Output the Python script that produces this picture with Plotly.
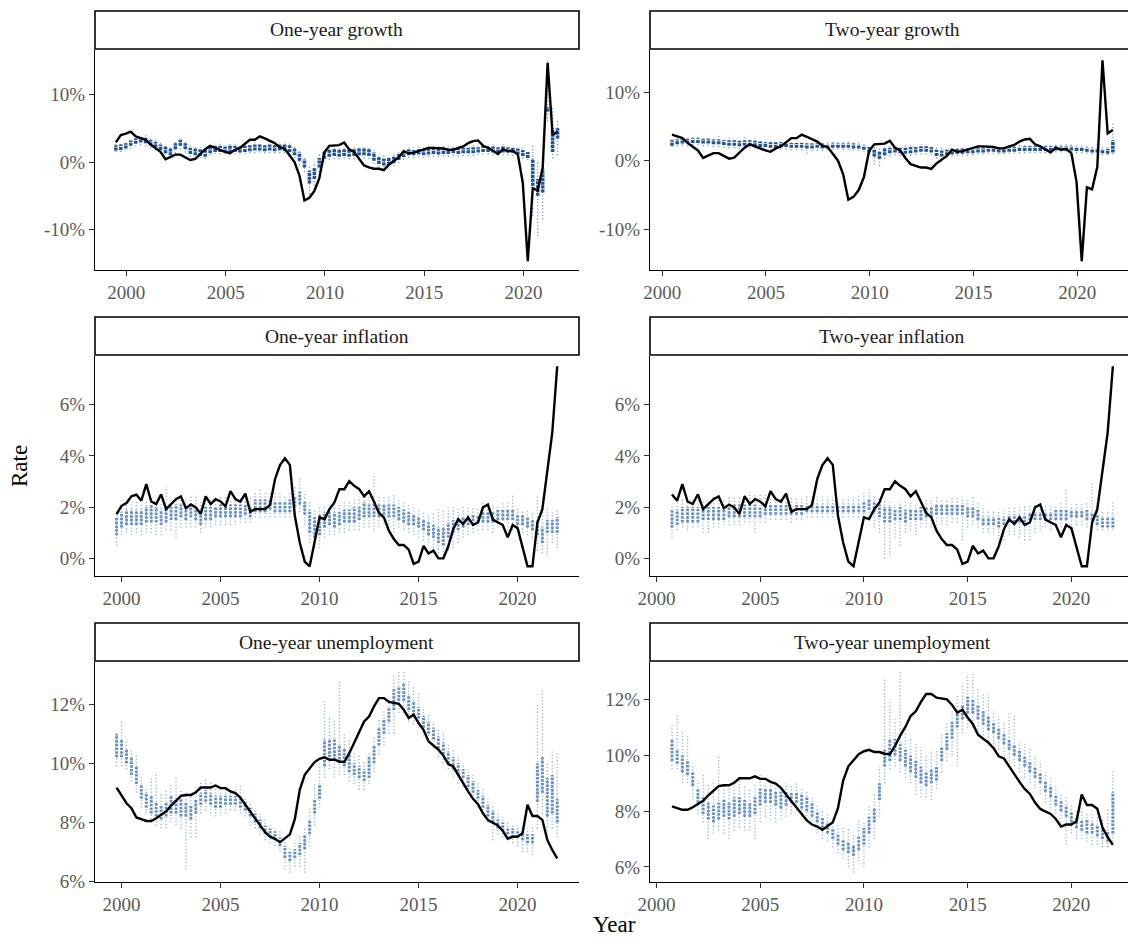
import plotly.graph_objects as go

# ---------------- data ----------------
# Actual outcomes, quarterly
growth_start = 1999.47
growth_actual = [2.9, 4.0, 4.2, 4.5, 3.8, 3.5, 3.3, 2.6, 2.1, 1.5,
                 0.4, 0.8, 1.1, 1.1, 0.7, 0.3, 0.45, 1.2, 1.9, 2.4,
                 2.1, 1.7, 1.5, 1.3, 1.8, 2.1, 2.7, 3.3, 3.3, 3.8,
                 3.5, 3.1, 2.8, 2.2, 2.0, 1.0, 0.0, -2.0, -5.7, -5.3,
                 -4.3, -2.4, 1.4, 2.4, 2.4, 2.5, 2.9, 1.9, 1.5, 0.4,
                 -0.5, -0.8, -1.0, -1.0, -1.2, -0.4, 0.1, 0.7, 1.6, 1.3,
                 1.4, 1.6, 1.9, 2.1, 2.1, 2.1, 2.0, 1.8, 1.8, 2.1,
                 2.3, 2.8, 3.1, 3.2, 2.4, 2.1, 1.6, 1.2, 1.9, 1.6,
                 1.7, 1.1, -3.1, -14.7, -3.9, -4.2, -0.9, 14.7, 4.0, 4.5]

infl_start = 1999.75
infl_actual = [1.73, 2.05, 2.16, 2.42, 2.49, 2.25, 2.9, 2.22, 2.12, 2.5,
               1.92, 2.12, 2.31, 2.42, 1.96, 2.1, 1.99, 1.73, 2.42, 2.12,
               2.31, 2.22, 2.03, 2.62, 2.31, 2.21, 2.53, 1.82, 1.92, 1.92,
               1.92, 2.09, 3.09, 3.64, 3.91, 3.65, 1.66, 0.62, -0.13, -0.31,
               0.62, 1.6, 1.53, 1.92, 2.18, 2.7, 2.7, 3.01, 2.83, 2.7,
               2.42, 2.62, 2.21, 1.77, 1.6, 1.08, 0.75, 0.52, 0.52, 0.34,
               -0.22, -0.13, 0.49, 0.19, 0.3, 0.0, 0.0, 0.47, 1.14, 1.53,
               1.34, 1.6, 1.3, 1.4, 1.99, 2.1, 1.51, 1.4, 1.3, 0.82,
               1.3, 1.18, 0.39, -0.31, -0.31, 1.4, 1.92, 3.35, 4.91, 7.5]

unemp_start = 1999.75
unemp_actual = [9.18, 8.93, 8.65, 8.48, 8.17, 8.11, 8.05, 8.05, 8.14, 8.26,
                8.37, 8.57, 8.73, 8.9, 8.93, 8.93, 9.02, 9.18, 9.18, 9.18,
                9.25, 9.16, 9.16, 9.05, 8.99, 8.84, 8.6, 8.37, 8.12, 7.9,
                7.67, 7.52, 7.45, 7.33, 7.45, 7.6, 8.11, 9.1, 9.61, 9.81,
                10.04, 10.15, 10.2, 10.12, 10.12, 10.06, 10.04, 10.34, 10.71, 11.02,
                11.41, 11.58, 11.92, 12.2, 12.2, 12.07, 12.03, 12.01, 11.81, 11.53,
                11.64, 11.36, 11.13, 10.74, 10.6, 10.46, 10.26, 9.97, 9.89, 9.59,
                9.33, 9.05, 8.8, 8.62, 8.31, 8.08, 7.98, 7.9, 7.72, 7.45,
                7.52, 7.52, 7.64, 8.6, 8.22, 8.22, 8.09, 7.41, 7.07, 6.79]

# Forecast clouds per quarter: dense core (lo, hi) and full spread (min, max)
g1_start = 1999.47
g1_lo = [1.7, 1.8, 2.0, 2.4, 2.7, 2.9, 2.8, 2.5, 2.2, 1.8, 1.3, 1.0, 1.9, 2.4, 1.9, 1.2, 1.0, 0.9, 0.8, 1.3,
         1.5, 1.5, 1.4, 1.4, 1.5, 1.4, 1.5, 1.6, 1.7, 1.7, 1.6, 1.7, 1.6, 1.7, 1.6, 1.5, 1.0, 0.2, -0.8, -3.2,
         -2.5, -0.8, 0.5, 0.8, 0.9, 0.8, 0.9, 0.8, 0.9, 1.0, 1.0, 0.9, 0.2, -0.3, -0.5, -0.4, -0.2, 0.3, 0.7, 1.0,
         1.0, 1.1, 1.0, 1.1, 1.2, 1.1, 1.2, 1.2, 1.3, 1.2, 1.3, 1.3, 1.3, 1.4, 1.5, 1.5, 1.4, 1.4, 1.4, 1.4,
         1.3, 1.1, 0.9, 0.6, -3.5, -5.0, -4.5, 7.5, 1.5, 3.5]
g1_hi = [2.5, 2.6, 2.8, 3.2, 3.5, 3.7, 3.6, 3.3, 3.0, 2.6, 2.3, 2.0, 2.8, 3.3, 2.8, 2.1, 2.0, 1.9, 1.8, 2.2,
         2.4, 2.4, 2.3, 2.4, 2.4, 2.3, 2.4, 2.5, 2.6, 2.6, 2.5, 2.6, 2.5, 2.6, 2.6, 2.5, 2.0, 1.4, 0.4, -1.3,
         -0.8, 0.6, 1.6, 1.8, 2.0, 1.9, 2.0, 1.9, 2.0, 2.0, 2.0, 1.9, 1.4, 0.8, 0.6, 0.6, 0.8, 1.2, 1.5, 1.9,
         1.8, 1.9, 1.9, 2.0, 2.0, 2.0, 2.1, 2.0, 2.1, 2.0, 2.1, 2.1, 2.2, 2.2, 2.4, 2.3, 2.3, 2.2, 2.3, 2.2,
         2.1, 2.0, 1.8, 1.5, 0.5, -2.5, -1.0, 8.2, 5.0, 5.0]
g1_min = [1.5, 1.5, 1.7, 2.0, 2.3, 2.5, 2.3, 2.0, 1.7, 1.2, 0.6, 0.5, 1.3, 1.9, 1.4, 0.8, 0.6, 0.6, 0.5, 1.0,
          1.2, 1.1, 1.1, 1.0, 1.1, 1.1, 1.2, 1.3, 1.3, 1.4, 1.3, 1.3, 1.3, 1.3, 1.3, 1.1, 0.6, -0.5, -1.5, -4.8,
          -4.0, -1.5, 0.0, 0.3, 0.4, 0.4, 0.5, 0.4, 0.5, 0.5, 0.5, 0.4, -0.3, -0.8, -1.2, -1.0, -0.6, -0.2, 0.3, 0.6,
          0.6, 0.7, 0.6, 0.7, 0.8, 0.7, 0.8, 0.8, 0.9, 0.8, 0.9, 0.9, 0.9, 1.0, 1.1, 1.1, 1.0, 1.0, 1.0, 1.0,
          0.9, 0.8, 0.5, 0.3, -8.0, -11.0, -8.5, 6.0, 0.5, 1.0]
g1_max = [2.8, 2.9, 3.1, 3.5, 3.8, 4.0, 4.0, 3.6, 3.3, 3.0, 2.6, 2.4, 3.0, 3.5, 3.0, 2.4, 2.2, 2.2, 2.0, 2.5,
          2.7, 2.7, 2.6, 2.7, 2.7, 2.6, 2.7, 2.8, 2.9, 2.9, 2.8, 2.9, 2.8, 2.9, 2.9, 2.8, 2.4, 1.8, 0.8, -0.5,
          0.0, 1.2, 2.0, 2.2, 2.4, 2.3, 2.4, 2.3, 2.4, 2.4, 2.3, 2.2, 1.8, 1.2, 1.0, 1.0, 1.2, 1.5, 1.9, 2.2,
          2.2, 2.3, 2.2, 2.3, 2.4, 2.3, 2.4, 2.4, 2.4, 2.3, 2.4, 2.4, 2.5, 2.5, 2.7, 2.6, 2.6, 2.5, 2.6, 2.5,
          2.4, 2.3, 2.1, 1.8, 2.5, 0.0, 0.5, 15.2, 8.0, 6.2]

g2_start = 2000.47
g2_lo = [2.2, 2.4, 2.5, 2.5, 2.6, 2.6, 2.5, 2.5, 2.4, 2.4, 2.3, 2.2, 2.2, 2.1, 2.2, 2.2, 2.1, 2.0, 2.0, 1.9,
         1.9, 2.0, 2.0, 1.9, 1.9, 1.9, 1.8, 1.8, 1.9, 1.8, 1.8, 1.9, 1.9, 1.9, 1.9, 1.8, 1.8, 1.6, 1.2, 0.6,
         0.3, 0.8, 1.1, 1.2, 1.1, 1.0, 1.1, 1.2, 1.3, 1.3, 1.2, 0.7, 0.6, 0.8, 0.9, 1.0, 1.0, 1.1, 1.1, 1.2,
         1.2, 1.3, 1.3, 1.2, 1.2, 1.3, 1.3, 1.4, 1.4, 1.4, 1.4, 1.4, 1.4, 1.4, 1.5, 1.5, 1.5, 1.5, 1.4, 1.4,
         1.3, 1.2, 1.2, 1.1, 1.0, 1.2]
g2_hi = [3.0, 3.1, 3.2, 3.2, 3.3, 3.3, 3.2, 3.2, 3.1, 3.1, 3.0, 3.0, 3.0, 2.9, 3.0, 3.0, 2.9, 2.8, 2.7, 2.7,
         2.7, 2.7, 2.7, 2.6, 2.6, 2.6, 2.5, 2.5, 2.5, 2.5, 2.4, 2.5, 2.5, 2.5, 2.5, 2.5, 2.4, 2.2, 2.0, 1.6,
         1.4, 1.8, 1.9, 2.0, 1.9, 1.9, 2.0, 2.0, 2.1, 2.1, 2.0, 1.6, 1.5, 1.6, 1.7, 1.7, 1.8, 1.8, 1.8, 1.9,
         1.9, 2.0, 2.0, 1.9, 1.9, 2.0, 2.0, 2.0, 2.1, 2.1, 2.1, 2.1, 2.1, 2.1, 2.1, 2.1, 2.1, 2.1, 2.0, 2.0,
         1.9, 1.8, 1.8, 1.7, 1.7, 3.0]
g2_min = [2.0, 2.1, 2.2, 2.1, 2.3, 2.3, 2.1, 2.2, 2.0, 2.0, 1.9, 1.8, 1.8, 1.7, 1.8, 1.9, 1.8, 1.7, 1.6, 1.5,
          1.5, 1.6, 1.6, 1.5, 1.5, 1.5, 1.0, 1.4, 1.5, 1.4, 1.5, 1.6, 1.6, 1.6, 1.6, 1.5, 1.5, 1.3, 0.8, -0.6,
          -0.8, 0.2, 0.6, 0.8, 0.7, 0.6, 0.7, 0.8, 0.9, 0.9, 0.8, 0.3, 0.2, 0.5, 0.6, 0.7, 0.6, 0.7, 0.8, 0.9,
          0.9, 1.0, 1.0, 0.9, 0.9, 1.0, 1.0, 1.1, 1.1, 1.1, 1.1, 1.1, 1.1, 1.1, 1.2, 1.2, 1.2, 1.2, 1.1, 1.1,
          1.0, 0.9, 0.9, 0.8, 0.8, 0.9]
g2_max = [3.2, 3.3, 3.4, 3.4, 3.5, 3.5, 3.4, 3.5, 3.4, 3.9, 3.3, 3.4, 3.3, 3.2, 3.5, 3.3, 3.3, 3.1, 3.0, 3.0,
          3.0, 3.0, 3.0, 2.9, 2.9, 2.9, 2.8, 2.8, 2.8, 2.7, 2.7, 2.8, 2.8, 2.8, 2.9, 2.8, 2.7, 2.5, 2.3, 2.0,
          1.8, 2.1, 2.2, 2.3, 2.2, 2.2, 2.3, 2.3, 2.4, 2.4, 2.3, 2.0, 1.9, 1.9, 2.0, 2.0, 2.0, 2.1, 2.1, 2.2,
          2.2, 2.3, 2.3, 2.2, 2.2, 2.3, 2.3, 2.3, 2.4, 2.4, 2.4, 2.4, 2.4, 2.4, 2.4, 2.6, 2.5, 2.4, 2.3, 2.3,
          2.2, 2.1, 2.6, 2.0, 2.0, 5.6]

i1_start = 1999.75
i1_lo = [0.9, 1.2, 1.3, 1.3, 1.3, 1.3, 1.4, 1.4, 1.4, 1.3, 1.4, 1.5, 1.5, 1.6, 1.5, 1.6, 1.5, 1.3, 1.5, 1.5,
         1.6, 1.6, 1.6, 1.6, 1.6, 1.6, 1.7, 1.6, 1.8, 1.8, 1.8, 1.9, 1.8, 1.8, 1.8, 1.8, 2.0, 2.1, 1.7, 1.0,
         0.8, 0.9, 1.2, 1.3, 1.2, 1.3, 1.4, 1.4, 1.4, 1.5, 1.6, 1.6, 1.6, 1.6, 1.7, 1.6, 1.6, 1.5, 1.4, 1.3,
         1.3, 1.2, 1.1, 0.9, 0.8, 0.6, 0.5, 0.8, 1.0, 1.1, 1.2, 1.3, 1.3, 1.4, 1.4, 1.4, 1.4, 1.5, 1.5, 1.5,
         1.5, 1.3, 1.3, 1.2, 1.1, 0.9, 0.6, 1.0, 1.0, 1.0]
i1_hi = [1.6, 1.8, 1.9, 1.9, 1.9, 1.9, 2.0, 2.1, 2.0, 1.9, 2.0, 2.0, 2.1, 2.1, 2.0, 2.1, 2.0, 1.9, 2.0, 2.0,
         2.0, 2.1, 2.1, 2.1, 2.1, 2.1, 2.1, 2.0, 2.3, 2.3, 2.3, 2.3, 2.2, 2.2, 2.2, 2.3, 2.4, 2.6, 2.2, 1.9,
         1.6, 1.7, 1.8, 1.8, 1.8, 1.8, 1.9, 1.9, 2.0, 2.0, 2.2, 2.1, 2.2, 2.1, 2.1, 2.1, 2.1, 2.0, 1.9, 1.8,
         1.7, 1.6, 1.5, 1.4, 1.3, 1.2, 1.2, 1.4, 1.5, 1.5, 1.6, 1.6, 1.7, 1.7, 1.8, 1.8, 1.8, 1.9, 1.9, 1.9,
         1.9, 1.7, 1.7, 1.6, 1.5, 1.5, 1.2, 1.5, 1.5, 1.6]
i1_min = [0.5, 0.9, 1.0, 0.9, 1.0, 0.9, 1.0, 1.0, 0.9, 0.9, 1.1, 1.1, 0.8, 1.2, 1.2, 1.2, 1.2, 1.0, 1.2, 1.2,
          1.3, 1.3, 1.3, 1.3, 1.3, 1.4, 1.4, 1.4, 1.6, 1.6, 1.6, 1.6, 1.6, 1.6, 1.6, 1.6, 1.7, 1.8, 1.3, 0.6,
          0.4, 0.4, 0.8, 0.9, 0.9, 1.0, 1.0, 1.1, 1.1, 1.1, 1.2, 1.2, 1.1, 1.2, 1.3, 1.2, 1.0, 1.2, 1.1, 1.0,
          0.9, 0.8, 0.7, 0.6, 0.4, 0.2, 0.0, 0.3, 0.4, 0.6, 0.8, 0.9, 1.0, 1.1, 1.1, 1.1, 1.0, 1.2, 1.2, 1.1,
          1.1, 1.1, 1.0, 0.9, 0.8, 0.3, 0.2, 0.1, 0.6, 0.4]
i1_max = [1.8, 2.0, 2.1, 2.1, 2.2, 2.1, 2.3, 2.4, 2.3, 2.2, 2.8, 2.4, 2.4, 2.4, 2.3, 2.4, 2.5, 2.2, 2.3, 2.3,
          2.3, 2.4, 2.4, 2.3, 2.4, 2.4, 2.5, 2.4, 2.6, 2.7, 2.6, 2.6, 2.6, 2.6, 2.5, 2.6, 2.8, 3.2, 2.6, 2.2,
          1.9, 2.0, 2.1, 2.1, 2.2, 2.1, 2.2, 2.2, 2.3, 2.4, 2.5, 2.4, 3.3, 2.4, 2.4, 2.4, 2.5, 2.3, 2.2, 2.1,
          2.0, 1.9, 1.8, 1.7, 1.8, 2.0, 1.9, 2.0, 2.0, 2.0, 2.0, 2.0, 2.0, 2.0, 2.2, 2.1, 2.1, 2.1, 2.2, 2.2,
          2.5, 2.0, 1.9, 1.9, 1.8, 2.5, 1.8, 2.0, 1.9, 1.9]

i2_start = 2000.75
i2_lo = [1.2, 1.3, 1.4, 1.4, 1.4, 1.4, 1.5, 1.5, 1.5, 1.5, 1.5, 1.6, 1.6, 1.6, 1.6, 1.6, 1.6, 1.6, 1.7, 1.7,
         1.7, 1.7, 1.7, 1.7, 1.7, 1.7, 1.8, 1.8, 1.8, 1.8, 1.8, 1.8, 1.8, 1.8, 1.8, 1.8, 1.8, 1.8, 1.9, 1.8,
         1.6, 1.4, 1.4, 1.5, 1.5, 1.4, 1.5, 1.5, 1.5, 1.6, 1.6, 1.7, 1.7, 1.7, 1.7, 1.7, 1.7, 1.6, 1.6, 1.5,
         1.3, 1.3, 1.3, 1.2, 1.3, 1.4, 1.4, 1.4, 1.4, 1.5, 1.5, 1.5, 1.5, 1.5, 1.5, 1.5, 1.5, 1.6, 1.6, 1.6,
         1.5, 1.5, 1.3, 1.2, 1.2, 1.2]
i2_hi = [1.9, 1.9, 2.0, 2.0, 2.0, 2.0, 2.0, 2.0, 2.0, 2.0, 2.0, 2.0, 2.1, 2.1, 2.1, 2.1, 2.1, 2.0, 2.1, 2.1,
         2.1, 2.1, 2.1, 2.0, 2.1, 2.1, 2.1, 2.2, 2.1, 2.1, 2.1, 2.1, 2.1, 2.1, 2.1, 2.1, 2.1, 2.2, 2.3, 2.2,
         2.1, 2.0, 2.0, 1.9, 2.0, 1.9, 1.9, 1.9, 2.0, 2.0, 2.0, 2.1, 2.1, 2.1, 2.1, 2.1, 2.1, 2.0, 2.0, 1.9,
         1.6, 1.6, 1.6, 1.6, 1.6, 1.7, 1.7, 1.7, 1.7, 1.8, 1.8, 1.8, 1.8, 1.8, 1.9, 1.9, 1.9, 1.9, 1.9, 1.9,
         1.9, 1.8, 1.7, 1.6, 1.6, 1.6]
i2_min = [0.8, 1.1, 1.2, 1.1, 1.2, 1.2, 1.0, 1.0, 1.2, 1.2, 1.3, 1.3, 1.3, 1.3, 1.4, 1.4, 1.0, 1.4, 1.4, 1.5,
          1.5, 1.5, 1.5, 1.4, 1.5, 1.5, 1.6, 1.6, 1.6, 1.6, 1.6, 1.6, 1.6, 1.6, 1.6, 1.6, 1.6, 1.6, 1.5, 1.2,
          1.0, 0.0, 0.1, 0.8, 0.5, 1.0, 1.1, 0.9, 1.2, 1.2, 1.2, 1.3, 1.3, 1.3, 1.4, 1.4, 0.7, 1.2, 1.3, 1.2,
          1.0, 1.0, 1.0, 0.6, 0.7, 0.9, 0.9, 0.8, 0.7, 0.7, 1.0, 1.1, 1.2, 1.1, 1.2, 1.2, 1.2, 1.3, 1.3, 1.3,
          1.2, 1.2, 1.1, 1.1, 1.1, 1.1]
i2_max = [2.1, 2.3, 2.3, 2.2, 2.3, 2.4, 2.3, 2.3, 2.4, 2.4, 2.3, 2.4, 2.4, 2.4, 2.5, 2.6, 2.5, 2.5, 2.5, 2.4,
          2.4, 2.4, 2.4, 2.4, 2.4, 2.4, 2.5, 2.5, 2.4, 2.4, 2.4, 2.4, 2.3, 2.3, 2.4, 2.4, 2.5, 2.6, 2.7, 2.5,
          2.4, 2.3, 2.2, 2.1, 2.2, 2.2, 2.2, 2.1, 2.2, 2.3, 2.3, 2.4, 2.3, 2.3, 2.4, 2.4, 2.4, 2.3, 2.4, 2.2,
          2.0, 1.9, 1.9, 1.9, 1.9, 2.0, 2.0, 2.0, 2.1, 2.1, 2.1, 2.1, 2.1, 2.1, 2.1, 2.2, 2.7, 2.1, 2.2, 2.2,
          2.2, 3.0, 2.3, 1.9, 1.9, 2.2]

u1_start = 1999.75
u1_lo = [10.2, 10.2, 10.0, 9.6, 9.3, 8.8, 8.5, 8.3, 8.2, 8.1, 8.2, 8.3, 8.3, 8.2, 8.2, 8.1, 8.3, 8.6, 8.7, 8.6,
         8.5, 8.5, 8.6, 8.6, 8.6, 8.5, 8.4, 8.2, 8.0, 7.8, 7.6, 7.5, 7.4, 7.2, 6.8, 6.7, 6.8, 6.9, 7.1, 7.6,
         8.3, 8.8, 9.9, 10.2, 10.1, 10.0, 9.9, 9.7, 9.6, 9.5, 9.4, 9.5, 10.0, 10.6, 11.0, 11.4, 11.8, 12.1, 12.1, 11.8,
         11.6, 11.5, 11.2, 11.0, 10.8, 10.5, 10.3, 10.0, 9.8, 9.6, 9.5, 9.2, 9.0, 8.8, 8.5, 8.2, 8.0, 7.8, 7.7, 7.6,
         7.5, 7.5, 7.4, 7.3, 7.3, 8.7, 9.0, 8.2, 8.3, 8.0]
u1_hi = [11.0, 10.8, 10.5, 10.2, 9.9, 9.3, 9.0, 8.9, 8.7, 8.6, 8.7, 8.9, 8.8, 8.8, 8.7, 8.6, 8.8, 9.0, 9.1, 9.0,
         8.9, 8.9, 8.9, 8.9, 8.9, 8.8, 8.7, 8.5, 8.3, 8.1, 7.9, 7.8, 7.7, 7.5, 7.2, 7.0, 7.1, 7.3, 7.6, 8.1,
         8.8, 9.3, 10.8, 10.8, 10.8, 10.6, 10.5, 10.3, 10.0, 9.9, 9.8, 10.2, 10.6, 11.2, 11.5, 11.9, 12.5, 12.6, 12.7, 12.3,
         12.1, 11.9, 11.6, 11.4, 11.2, 10.9, 10.7, 10.4, 10.2, 10.0, 9.8, 9.6, 9.4, 9.1, 8.9, 8.6, 8.4, 8.1, 8.0, 7.8,
         7.8, 7.7, 7.7, 7.6, 7.6, 10.0, 10.2, 9.5, 9.6, 8.8]
u1_min = [9.9, 9.9, 9.8, 9.4, 9.0, 8.5, 8.3, 8.0, 7.9, 7.8, 7.8, 8.0, 7.9, 7.8, 6.4, 7.5, 7.5, 8.3, 8.4, 8.3,
          8.2, 8.3, 8.3, 8.4, 8.4, 8.3, 8.2, 7.9, 7.8, 7.6, 7.4, 7.3, 7.2, 7.0, 6.4, 6.3, 6.5, 6.5, 6.3, 7.2,
          7.9, 8.5, 9.5, 9.8, 9.5, 9.6, 9.6, 9.4, 9.3, 9.1, 9.1, 9.3, 9.7, 10.3, 10.6, 11.0, 11.0, 11.7, 11.7, 11.4,
          11.3, 11.2, 10.9, 10.7, 10.5, 10.2, 10.0, 9.8, 9.5, 9.3, 9.2, 9.0, 8.8, 8.5, 8.3, 8.0, 7.4, 7.6, 7.5, 7.4,
          7.3, 7.2, 7.0, 7.0, 6.9, 7.8, 8.3, 7.6, 7.8, 7.5]
u1_max = [11.0, 11.4, 10.8, 10.5, 10.3, 9.6, 9.2, 9.5, 9.7, 9.0, 9.1, 9.3, 9.5, 9.1, 9.0, 9.0, 9.2, 9.4, 9.5, 9.4,
          9.3, 9.2, 9.2, 9.1, 9.2, 9.3, 8.8, 8.7, 8.5, 8.3, 8.1, 7.9, 7.8, 7.7, 7.4, 7.2, 7.4, 7.6, 7.8, 8.5,
          9.3, 10.0, 12.1, 11.6, 11.5, 12.8, 11.0, 10.8, 10.4, 10.3, 10.1, 10.4, 10.9, 11.5, 11.8, 12.2, 13.0, 13.1, 13.1, 12.8,
          12.6, 12.4, 11.9, 11.7, 11.4, 11.2, 11.1, 10.7, 10.5, 10.3, 10.0, 9.8, 9.6, 9.4, 9.2, 8.8, 8.6, 8.4, 8.2, 8.0,
          7.9, 7.9, 7.9, 7.8, 7.9, 12.0, 12.5, 10.0, 10.4, 10.4]

u2_start = 2000.75
u2_lo = [9.8, 9.7, 9.4, 9.3, 8.9, 8.3, 7.9, 7.7, 7.6, 7.7, 7.8, 7.7, 7.8, 7.9, 7.8, 7.8, 7.9, 8.2, 8.3, 8.3,
         8.2, 8.1, 8.2, 8.3, 8.3, 8.1, 8.0, 7.8, 7.6, 7.4, 7.2, 7.0, 6.8, 6.6, 6.5, 6.4, 6.6, 6.8, 7.2, 7.6,
         8.4, 9.6, 9.8, 10.0, 9.8, 9.6, 9.4, 9.2, 9.0, 8.9, 9.0, 9.1, 9.8, 10.2, 10.6, 11.0, 11.3, 11.5, 11.5, 11.3,
         11.1, 10.9, 10.8, 10.6, 10.4, 10.2, 10.0, 9.8, 9.6, 9.4, 9.2, 9.0, 8.7, 8.5, 8.2, 8.0, 7.8, 7.6, 7.4, 7.3,
         7.2, 7.2, 7.1, 7.0, 6.9, 7.2]
u2_hi = [10.6, 10.2, 10.0, 9.8, 9.4, 8.8, 8.5, 8.3, 8.2, 8.3, 8.4, 8.3, 8.5, 8.5, 8.4, 8.3, 8.5, 8.8, 8.8, 8.8,
         8.7, 8.7, 8.7, 8.7, 8.7, 8.6, 8.5, 8.3, 8.0, 7.8, 7.6, 7.4, 7.2, 7.0, 6.9, 6.8, 7.1, 7.4, 7.8, 8.1,
         9.0, 10.2, 10.6, 10.6, 10.4, 10.2, 10.0, 9.8, 9.6, 9.4, 9.5, 9.6, 10.3, 10.8, 11.2, 11.5, 11.8, 12.1, 12.0, 11.8,
         11.6, 11.4, 11.2, 11.0, 10.8, 10.6, 10.4, 10.2, 10.0, 9.8, 9.6, 9.4, 9.1, 8.9, 8.6, 8.4, 8.2, 8.0, 7.8, 7.7,
         7.7, 7.6, 7.5, 7.4, 7.3, 8.7]
u2_min = [9.5, 9.5, 9.0, 9.0, 8.5, 7.9, 7.6, 7.0, 7.2, 7.3, 7.2, 7.0, 7.3, 7.4, 7.3, 7.3, 7.0, 7.6, 7.8, 7.7,
          7.6, 7.7, 7.8, 7.9, 8.0, 7.8, 7.7, 7.5, 7.2, 7.0, 6.9, 6.7, 6.5, 6.3, 6.0, 5.8, 6.2, 6.0, 6.7, 7.0,
          7.8, 9.0, 9.5, 9.6, 9.4, 9.2, 9.0, 8.6, 8.5, 8.5, 8.4, 8.8, 9.4, 9.8, 10.0, 9.6, 10.8, 11.0, 11.0, 10.8,
          10.6, 10.4, 10.4, 10.2, 10.0, 9.8, 9.6, 9.4, 9.2, 9.0, 8.8, 8.6, 8.3, 8.1, 7.9, 7.6, 6.8, 7.2, 7.0, 7.0,
          6.9, 6.8, 6.8, 6.7, 6.7, 6.9]
u2_max = [11.1, 11.5, 10.9, 10.7, 9.7, 9.1, 9.3, 9.0, 9.1, 10.0, 8.9, 9.0, 9.1, 9.2, 8.9, 8.8, 9.0, 9.3, 9.0, 9.0,
          8.9, 8.9, 9.0, 8.9, 9.0, 8.8, 8.7, 8.5, 8.2, 8.0, 7.9, 7.7, 7.5, 7.4, 7.4, 7.2, 7.7, 7.6, 8.2, 8.6,
          9.6, 12.8, 12.0, 11.3, 13.0, 10.8, 10.6, 10.4, 10.3, 10.0, 10.2, 10.2, 10.8, 11.2, 11.6, 12.2, 12.6, 12.9, 13.0, 12.4,
          12.2, 12.2, 11.6, 11.4, 11.2, 11.5, 11.5, 10.5, 10.4, 10.3, 10.0, 9.8, 9.4, 9.2, 8.9, 8.6, 8.5, 8.2, 8.0, 8.1,
          7.9, 8.0, 7.8, 7.7, 8.1, 9.5]

panel_titles = ["One-year growth", "Two-year growth",
                "One-year inflation", "Two-year inflation",
                "One-year unemployment", "Two-year unemployment"]
year_ticks = [2000, 2005, 2010, 2015, 2020]
growth_ticks = [-10, 0, 10]
growth_ticktext = ["-10%", "0%", "10%"]
infl_ticks = [0, 2, 4, 6]
infl_ticktext = ["0%", "2%", "4%", "6%"]
unemp_ticks = [6, 8, 10, 12]
unemp_ticktext = ["6%", "8%", "10%", "12%"]

# ---------------- figure ----------------
W, H = 1128, 939
FONT = "Liberation Serif"
PT_LIGHT = "rgba(74,122,182,0.55)"
CORE_LIGHT = "rgba(74,122,182,0.80)"
PT_DARK = "rgba(40,92,160,0.60)"
CORE_DARK = "rgba(24,76,146,0.95)"


def qdates(start, n):
    return [start + 0.25 * k for k in range(n)]


def segs(xs, a, b):
    X, Y = [], []
    for x, y0, y1 in zip(xs, a, b):
        X += [x, x, None]
        Y += [y0, y1, None]
    return X, Y


panels = [
    dict(start=g1_start, lo=g1_lo, hi=g1_hi, mn=g1_min, mx=g1_max, dark=True,
         act_start=growth_start, act=growth_actual, act_from=1999.4,
         xr=[1998.42, 2022.8], yr=[-16.0, 16.6], tv=growth_ticks, tt=growth_ticktext),
    dict(start=g2_start, lo=g2_lo, hi=g2_hi, mn=g2_min, mx=g2_max, dark=True,
         act_start=growth_start, act=growth_actual, act_from=2000.4,
         xr=[1999.41, 2022.45], yr=[-16.0, 16.2], tv=growth_ticks, tt=growth_ticktext),
    dict(start=i1_start, lo=i1_lo, hi=i1_hi, mn=i1_min, mx=i1_max, dark=False,
         act_start=infl_start, act=infl_actual, act_from=1999.7,
         xr=[1998.66, 2023.1], yr=[-0.69, 7.9], tv=infl_ticks, tt=infl_ticktext),
    dict(start=i2_start, lo=i2_lo, hi=i2_hi, mn=i2_min, mx=i2_max, dark=False,
         act_start=infl_start, act=infl_actual, act_from=2000.7,
         xr=[1999.69, 2022.73], yr=[-0.69, 7.9], tv=infl_ticks, tt=infl_ticktext),
    dict(start=u1_start, lo=u1_lo, hi=u1_hi, mn=u1_min, mx=u1_max, dark=False,
         act_start=unemp_start, act=unemp_actual, act_from=1999.7,
         xr=[1998.66, 2023.1], yr=[5.99, 13.42], tv=unemp_ticks, tt=unemp_ticktext),
    dict(start=u2_start, lo=u2_lo, hi=u2_hi, mn=u2_min, mx=u2_max, dark=False,
         act_start=unemp_start, act=unemp_actual, act_from=2000.7,
         xr=[1999.69, 2022.73], yr=[5.46, 13.35], tv=unemp_ticks, tt=unemp_ticktext),
]

col_px = [(95, 579), (650, 1128)]
row_px = [(50, 270), (356, 576), (662, 882)]
strip_px = [(11, 49), (317, 355), (623, 661)]

fig = go.Figure()
shapes, annotations = [], []
layout_axes = {}

for idx, p in enumerate(panels):
    r, c = divmod(idx, 2)
    n = idx + 1
    xa = "x" if n == 1 else f"x{n}"
    ya = "y" if n == 1 else f"y{n}"
    pt_col = PT_DARK if p["dark"] else PT_LIGHT
    core_col = CORE_DARK if p["dark"] else CORE_LIGHT
    core_w = 3.6 if p["dark"] else 3.0
    core_dash = "3px,0.8px" if p["dark"] else "2.5px,1.2px"
    xs = qdates(p["start"], len(p["lo"]))
    X, Y = segs(xs, p["mn"], p["mx"])
    fig.add_trace(go.Scatter(x=X, y=Y, mode="lines", xaxis=xa, yaxis=ya,
                             line=dict(color=pt_col, width=1.3, dash="1.3px,2px"),
                             hoverinfo="skip", showlegend=False))
    X, Y = segs(xs, p["lo"], p["hi"])
    fig.add_trace(go.Scatter(x=X, y=Y, mode="lines", xaxis=xa, yaxis=ya,
                             line=dict(color=core_col, width=core_w, dash=core_dash),
                             hoverinfo="skip", showlegend=False))
    ax_dates = qdates(p["act_start"], len(p["act"]))
    keep = [k for k, d in enumerate(ax_dates) if d >= p["act_from"]]
    fig.add_trace(go.Scatter(x=[ax_dates[k] for k in keep], y=[p["act"][k] for k in keep],
                             mode="lines", xaxis=xa, yaxis=ya,
                             line=dict(color="black", width=2.4),
                             showlegend=False))

    x0, x1 = col_px[c]
    y0, y1 = row_px[r]
    xdom = [x0 / W, min(x1 / W, 1.0)]
    ydom = [1 - y1 / H, 1 - y0 / H]
    common = dict(showgrid=False, zeroline=False, showline=True, linecolor="black",
                  linewidth=1.1, ticks="outside", ticklen=5, tickwidth=1.1, automargin=False,
                  tickcolor="#333333", tickfont=dict(family=FONT, size=19, color="#5a5a5a"))
    layout_axes["xaxis" if n == 1 else f"xaxis{n}"] = dict(
        domain=xdom, range=p["xr"], anchor=ya, tickvals=year_ticks,
        ticktext=[str(t) for t in year_ticks], **common)
    layout_axes["yaxis" if n == 1 else f"yaxis{n}"] = dict(
        domain=ydom, range=p["yr"], anchor=xa, tickvals=p["tv"], ticktext=p["tt"], **common)

    # facet strip
    s0, s1 = strip_px[r]
    sx0, sx1 = x0 / W, x1 / W
    sy0, sy1 = 1 - s1 / H, 1 - s0 / H
    if c == 0:
        shapes.append(dict(type="rect", xref="paper", yref="paper", x0=sx0, x1=sx1,
                           y0=sy0, y1=sy1, line=dict(color="black", width=1.6),
                           fillcolor="white", layer="below"))
    else:
        shapes.append(dict(type="path", xref="paper", yref="paper",
                           path=f"M 1.01,{sy1} L {sx0},{sy1} L {sx0},{sy0} L 1.01,{sy0}",
                           line=dict(color="black", width=1.6)))
    cx = (x0 + (x1 if c == 0 else 1134)) / 2 / W
    annotations.append(dict(text=panel_titles[idx], xref="paper", yref="paper",
                            x=cx, y=(sy0 + sy1) / 2, showarrow=False,
                            font=dict(family=FONT, size=19.5, color="#1a1a1a"),
                            xanchor="center", yanchor="middle"))

annotations.append(dict(text="Rate", xref="paper", yref="paper", x=20 / W, y=1 - 466 / H,
                        textangle=-90, showarrow=False,
                        font=dict(family=FONT, size=23, color="black"),
                        xanchor="center", yanchor="middle"))
annotations.append(dict(text="Year", xref="paper", yref="paper", x=614 / W, y=0.0,
                        showarrow=False, font=dict(family=FONT, size=23, color="black"),
                        xanchor="center", yanchor="bottom"))

fig.update_layout(width=W, height=H, margin=dict(l=0, r=0, t=0, b=0),
                  paper_bgcolor="white", plot_bgcolor="white",
                  shapes=shapes, annotations=annotations, **layout_axes)

fig.write_html("out.html", config={"displayModeBar": False},
               post_script="document.body.style.margin='0';document.body.style.overflow='hidden';")
